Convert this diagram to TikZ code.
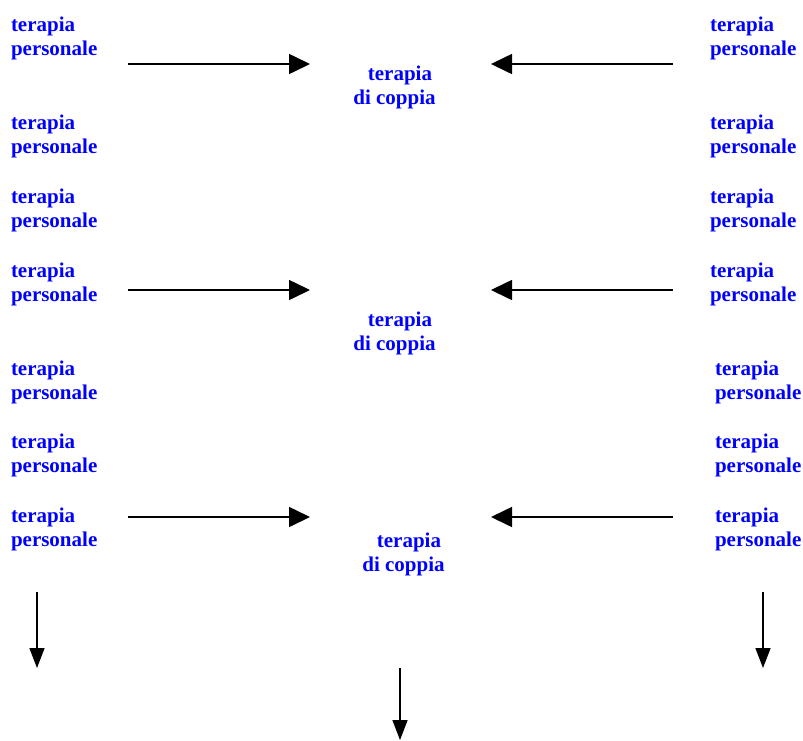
\documentclass[tikz,border=0pt]{standalone}
\usepackage{fontspec}
\setmainfont{Liberation Serif}
\usetikzlibrary{arrows.meta}
\definecolor{txtblue}{RGB}{0,0,255}
\begin{document}
\begin{tikzpicture}[x=1pt,y=-1pt,
  lbl/.style={text=txtblue,font=\fontsize{21}{24}\selectfont\bfseries,inner sep=0pt,outer sep=0pt},
  pers/.style={lbl,align=left,anchor=base west},
  coup/.style={lbl,align=center,anchor=base},
  harrow/.style={line width=1.6pt,-{Triangle[length=21pt,width=20pt]}},
  varrow/.style={line width=1.6pt,-{Triangle[length=20pt,width=15pt]}}]
\useasboundingbox (0,0) rectangle (803,740);
% left column (anchor = baseline of the second line)
\node[pers] (l1) at (11,55) {terapia\\personale};
\node[pers] (l2) at (11,153) {terapia\\personale};
\node[pers] (l3) at (11,227) {terapia\\personale};
\node[pers] (l4) at (11,301) {terapia\\personale};
\node[pers] (l5) at (11,399) {terapia\\personale};
\node[pers] (l6) at (11,472) {terapia\\personale};
\node[pers] (l7) at (11,546) {terapia\\personale};
% right column
\node[pers] (r1) at (710,55) {terapia\\personale};
\node[pers] (r2) at (710,153) {terapia\\personale};
\node[pers] (r3) at (710,227) {terapia\\personale};
\node[pers] (r4) at (710,301) {terapia\\personale};
\node[pers] (r5) at (715,399) {terapia\\personale};
\node[pers] (r6) at (715,472) {terapia\\personale};
\node[pers] (r7) at (715,546) {terapia\\personale};
% centre
\node[coup] (c1) at (394.5,104) {\hspace*{11pt}terapia\\di coppia};
\node[coup] (c2) at (394.5,350) {\hspace*{11pt}terapia\\di coppia};
\node[coup] (c3) at (403.5,571) {\hspace*{11pt}terapia\\di coppia};
% arrow end points
\coordinate (a1s) at (128,64);  \coordinate (a1e) at (310,64);
\coordinate (b1s) at (673,64);  \coordinate (b1e) at (491,64);
\coordinate (a2s) at (128,290); \coordinate (a2e) at (310,290);
\coordinate (b2s) at (673,290); \coordinate (b2e) at (491,290);
\coordinate (a3s) at (128,517); \coordinate (a3e) at (310,517);
\coordinate (b3s) at (673,517); \coordinate (b3e) at (491,517);
\coordinate (dls) at (37,592);  \coordinate (dle) at (37,668);
\coordinate (drs) at (763,592); \coordinate (dre) at (763,668);
\coordinate (dcs) at (400,668); \coordinate (dce) at (400,740);
\draw[harrow] (a1s) -- (a1e);
\draw[harrow] (b1s) -- (b1e);
\draw[harrow] (a2s) -- (a2e);
\draw[harrow] (b2s) -- (b2e);
\draw[harrow] (a3s) -- (a3e);
\draw[harrow] (b3s) -- (b3e);
\draw[varrow] (dls) -- (dle);
\draw[varrow] (drs) -- (dre);
\draw[varrow] (dcs) -- (dce);
\end{tikzpicture}
\end{document}
